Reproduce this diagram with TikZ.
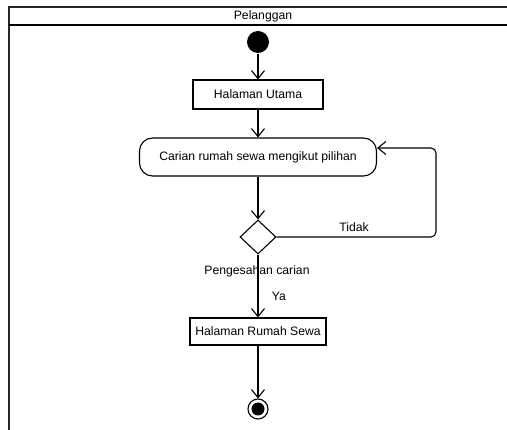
\documentclass[tikz,border=0pt]{standalone}
\usepackage{fontspec}
\setmainfont{Liberation Sans}
\usetikzlibrary{arrows.meta,shapes.geometric}
\begin{document}
\begin{tikzpicture}[x=1pt,y=-1pt,
  line width=1.1pt,
  txt/.style={font=\fontsize{12.2}{14}\selectfont},
  flow/.style={draw=black,-{Straight Barb[length=8pt,width=13pt,line width=1.1pt]}},
  actbox/.style={draw,rectangle,minimum width=130pt,minimum height=29pt,inner sep=0pt,txt},
  actround/.style={draw,rectangle,rounded corners=13pt,minimum width=237pt,minimum height=38pt,inner sep=0pt,txt},
  lbl/.style={txt,inner sep=0pt}]
\useasboundingbox (0,0) rectangle (507,430);
\begin{scope}
\clip (0,0) rectangle (507,430);
% swimlane frame
\draw[line width=1.3pt,draw=black!85] (520,7) -- (9,7) -- (9,440);
\draw[line width=1.3pt] (9,25) -- (520,25);
\end{scope}
\node[lbl] (lane) at (263,16) {Pelanggan};

% initial node
\node[circle,fill=black,minimum size=22pt,inner sep=0pt] (start) at (258,42) {};
% activities
\node[actbox] (utama) at (258,94.5) {Halaman Utama};
\node[actround] (carian) at (258,157) {Carian rumah sewa mengikut pilihan};
\node[diamond,draw,minimum width=36pt,minimum height=34pt,inner sep=0pt] (dec) at (258,237) {};
\node[actbox,minimum width=136pt,minimum height=27pt] (rumah) at (258,331.5) {Halaman Rumah Sewa};
% final node
\node[circle,draw,minimum size=20pt,inner sep=0pt] (end) at (258,409) {};
\node[circle,fill=black,minimum size=13pt,inner sep=0pt] (endin) at (258,409) {};

% flows
\draw[flow] (start) -- (utama);
\draw[flow] (utama) -- (carian);
\draw[flow] (carian) -- (dec.north);
\coordinate (loopA) at (436,237);
\coordinate (loopB) at (436,148);
\coordinate (back) at (carian.east |- loopB);
\draw[flow,rounded corners=5pt] (dec.east) -- (loopA) -- (loopB) -- (back);
\draw[flow] (dec.south) -- (rumah);
\draw[flow] (rumah) -- (end);

% guard labels
\node[lbl] (tidak) at (354,227) {Tidak};
\node[lbl] (pengesahan) at (257,271) {Pengesahan carian};
\node[lbl] (ya) at (279,296) {Ya};
\end{tikzpicture}
\end{document}
